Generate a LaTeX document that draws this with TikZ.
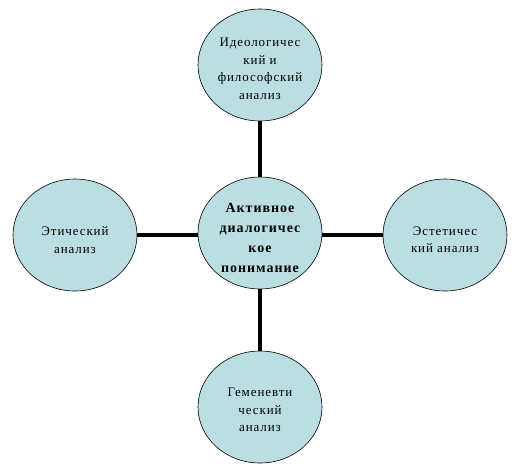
\documentclass[tikz,border=0pt]{standalone}
\usepackage{fontspec}
\setmainfont{Liberation Serif}
\newfontfamily\spreadfont[LetterSpace=7]{Liberation Serif}
\usetikzlibrary{shapes.geometric}
\definecolor{bubblefill}{RGB}{186,222,226}
\begin{document}
\begin{tikzpicture}[x=1pt,y=-1pt,
  bubble/.style={ellipse,draw=black,line width=0.6pt,fill=bubblefill,
    minimum width=124pt,minimum height=112pt,inner sep=0pt},
  txt/.style={align=center,inner sep=0pt,font=\spreadfont\fontsize{13}{17.5}\selectfont},
  hubtxt/.style={txt,font=\spreadfont\fontsize{14}{20}\selectfont\bfseries},
  conn/.style={line width=3.5pt,draw=black}]
\useasboundingbox (0,0) rectangle (521,469);
\node[bubble] (c) at (260,233) {};
\node[bubble] (t) at (260,65) {};
\node[bubble] (l) at (75,235) {};
\node[bubble] (r) at (445,235) {};
\node[bubble] (b) at (260,407) {};
\node[hubtxt] (ct) at (260,238) {Активное\\диалогичес\\кое\\понимание};
\node[txt] (tt) at (260,69) {Идеологичес\\кий и\\философский\\анализ};
\node[txt] (lt) at (75,240) {Этический\\анализ};
\node[txt] (rt) at (445,240) {Эстетичес\\кий анализ};
\node[txt] (bt) at (260,410) {Геменевти\\ческий\\анализ};
\draw[conn] (t.south) -- (c.north);
\draw[conn] (b.north) -- (c.south);
\draw[conn] (l.east) -- (c.west |- l.east);
\draw[conn] (r.west) -- (c.east |- r.west);
\end{tikzpicture}
\end{document}
